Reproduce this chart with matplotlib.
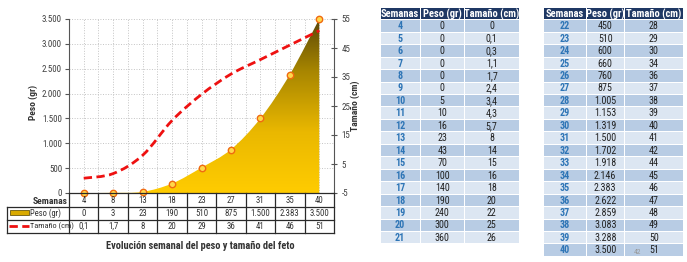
"""
Evolucion semanal del peso y tamano del feto: chart with data table plus two lookup tables.
"""
import numpy as np
import matplotlib

matplotlib.use("Agg")
import matplotlib.pyplot as plt
from matplotlib.path import Path
from matplotlib.patches import PathPatch, Rectangle
from matplotlib.colors import LinearSegmentedColormap
from matplotlib.lines import Line2D
from matplotlib.ticker import FuncFormatter

plt.rcParams["font.family"] = ["Roboto Condensed", "Liberation Sans Narrow",
                               "Liberation Sans", "DejaVu Sans"]
plt.rcParams["axes.unicode_minus"] = False

W, H = 687, 262

# chart series
semanas_graf = [4, 8, 13, 18, 23, 27, 31, 35, 40]
peso_graf = [0, 3, 23, 190, 510, 875, 1500, 2383, 3500]
tamano_graf = [0.1, 1.7, 8, 20, 29, 36, 41, 46, 51]

# lookup tables (weeks 4-21 and 22-40)
semanas_tabla = list(range(4, 41))
peso_tabla = [0, 0, 0, 0, 0, 0, 5, 10, 16, 23, 43, 70, 100, 140, 190, 240, 300, 360,
              450, 510, 600, 660, 760, 875, 1005, 1153, 1319, 1500, 1702, 1918, 2146,
              2383, 2622, 2859, 3083, 3288, 3500]
tamano_tabla = [0, 0.1, 0.3, 1.1, 1.7, 2.4, 3.4, 4.3, 5.7, 8, 14, 15, 16, 18, 20, 22, 25, 26,
                28, 29, 30, 34, 36, 37, 38, 39, 40, 41, 42, 44, 45, 46, 47, 48, 49, 50, 51]

RED = "#ee1111"
TXT = "#333333"


def fmt_es(v):
    if float(v).is_integer():
        return f"{int(v):,}".replace(",", ".")
    return f"{v}".replace(".", ",")


def smooth_path(x, y):
    pts = np.column_stack([x, y]).astype(float)
    n = len(pts)
    verts = [pts[0]]
    codes = [Path.MOVETO]
    for i in range(n - 1):
        p0 = pts[i - 1] if i > 0 else pts[i]
        p1, p2 = pts[i], pts[i + 1]
        p3 = pts[i + 2] if i + 2 < n else pts[i + 1]
        verts += [p1 + (p2 - p0) / 6, p2 - (p3 - p1) / 6, p2]
        codes += [Path.CURVE4] * 3
    return verts, codes


fig = plt.figure(figsize=(W / 100, H / 100), dpi=100)

# ---- chart ----
L, R, T, B = 69, 334, 19, 193
ax = fig.add_axes([L / W, 1 - B / H, (R - L) / W, (B - T) / H])
ax2 = ax.twinx()
xs = np.arange(len(semanas_graf))

# gradient area for peso
verts, codes = smooth_path(xs, peso_graf)
area_verts = verts + [(xs[-1], 0), (xs[0], 0), (xs[0], 0)]
area_codes = codes + [Path.LINETO, Path.LINETO, Path.CLOSEPOLY]
area = PathPatch(Path(area_verts, area_codes), facecolor="none", edgecolor="none")
ax.add_patch(area)
cmap = LinearSegmentedColormap.from_list(
    "oro", [(0, "#ffcc00"), (0.35, "#eab800"), (0.7, "#a88600"), (1, "#5a4708")])
grad = np.linspace(0, 1, 256).reshape(-1, 1)
im = ax.imshow(grad, extent=[-0.5, 8.5, 0, 3500], origin="lower", cmap=cmap,
               aspect="auto", zorder=2)
im.set_clip_path(area)

# tamano smoothed dashed line (right axis scale)
tv, tc = smooth_path(xs, tamano_graf)
red_line = PathPatch(Path(tv, tc), fill=False, edgecolor=RED, lw=2.0,
                     linestyle=(0, (3, 1.6)), transform=ax2.transData, zorder=3)
red_line.set_capstyle("butt")
ax.add_patch(red_line)

ax.plot(xs, peso_graf, "o", ms=4.6, mfc="#ffd84a", mec="#f06a10", mew=1.0, zorder=5,
        clip_on=False)

ax.set_xlim(-0.5, 8.5)
ax.set_ylim(0, 3500)
ax2.set_ylim(-5, 55)
ax.set_xticks(np.arange(-0.5, 8.6, 0.5))
ax.set_xticklabels([])
ax.tick_params(axis="x", length=0)
ax.set_yticks(np.arange(0, 3501, 500))
ax.yaxis.set_major_formatter(FuncFormatter(lambda v, p: fmt_es(v)))
ax.tick_params(axis="y", labelsize=6.5, colors="#555555", labelcolor="#404040",
               length=3, width=0.8, pad=2)
ax2.set_yticks(np.arange(-5, 56, 10))
ax2.tick_params(axis="y", labelsize=6.5, colors="#555555", labelcolor="#404040",
                direction="inout", length=5, width=0.8, pad=3)
ax.grid(True, color="#c4c4c4", linestyle=":", lw=0.7)
ax.set_axisbelow(True)
for s in ["top", "right", "bottom"]:
    ax.spines[s].set_visible(False)
for s in ["top", "left", "bottom"]:
    ax2.spines[s].set_visible(False)
ax.spines["left"].set_color("#555555")
ax2.spines["right"].set_color("#555555")

# ---- overlay in pixel coordinates ----
ov = fig.add_axes([0, 0, 1, 1], zorder=10)
ov.set_xlim(0, W)
ov.set_ylim(H, 0)
ov.axis("off")
ov.patch.set_visible(False)

ov.text(33, 102, "Peso (gr)", rotation=90, ha="center", va="center",
        fontsize=6.8, fontweight="bold", color=TXT)
ov.text(355, 106, "Tamaño (cm)", rotation=90, ha="center", va="center",
        fontsize=6.8, fontweight="bold", color=TXT)

# data table under the chart
n = len(semanas_graf)
cw = (R - L) / n
y_rows = [B, 207, 219.5, 232.5]
lc, lw = "#2a2a2a", 0.9
ov.plot([L, R], [B, B], color=lc, lw=lw)
for y in y_rows[1:]:
    ov.plot([7, R], [y, y], color=lc, lw=lw)
for i in range(n + 1):
    ov.plot([L + i * cw] * 2, [B, y_rows[-1]], color=lc, lw=lw)
ov.plot([7, 7], [y_rows[1], y_rows[-1]], color=lc, lw=lw)
ov.text(L - 1, 201.8, "Semanas", ha="right", va="center", fontsize=6.8,
        fontweight="bold", color=TXT)
for i in range(n):
    cx = L + (i + 0.5) * cw
    ov.text(cx, 200.5, str(semanas_graf[i]), ha="center", va="center", fontsize=6.3, color=TXT)
    ov.text(cx, 213.5, fmt_es(peso_graf[i]), ha="center", va="center", fontsize=6.3, color=TXT)
    ov.text(cx, 226.3, fmt_es(tamano_graf[i]), ha="center", va="center", fontsize=6.3, color=TXT)
ov.add_patch(Rectangle((10, 209.5), 19, 5, facecolor="#d9aa00", edgecolor="#6b5a10", lw=0.6))
ov.text(30, 213.3, "Peso (gr)", ha="left", va="center", fontsize=6.2, color=TXT)
ov.add_line(Line2D([9, 29], [226.3, 226.3], color=RED, lw=2.0, linestyle=(0, (3, 1.6)),
                   solid_capstyle="butt", dash_capstyle="butt"))
ov.text(29.5, 226.3, "Tamaño (cm)", ha="left", va="center", fontsize=6.0, color=TXT)

ov.text(200, 246, "Evolución semanal del peso y tamaño del feto", ha="center",
        va="center", fontsize=7.5, fontweight="bold", color=TXT)


# ---- right tables ----
def draw_table(edges, y0, rows):
    hh, rh = 11, 12.45
    heads = ["Semanas", "Peso (gr)", "Tamaño (cm)"]
    for j, h in enumerate(heads):
        x1, x2 = edges[j], edges[j + 1]
        ov.add_patch(Rectangle((x1 + 0.5, y0), x2 - x1 - 1, hh, facecolor="#1f3864",
                               edgecolor="none"))
        ov.text((x1 + x2) / 2, y0 + hh / 2 + 0.3, h, ha="center", va="center",
                fontsize=7.6, fontweight="bold", color="white")
    for k, (sem, pes, tam) in enumerate(rows):
        y = y0 + hh + 0.5 + k * rh
        fc = "#b8cce4" if k % 2 == 0 else "#dce6f2"
        vals = [str(sem), fmt_es(pes), fmt_es(tam)]
        for j in range(3):
            x1, x2 = edges[j], edges[j + 1]
            ov.add_patch(Rectangle((x1 + 0.5, y + 0.5), x2 - x1 - 1, rh - 1,
                                   facecolor=fc, edgecolor="none"))
            ov.text((x1 + x2) / 2, y + rh / 2 + 0.2, vals[j], ha="center", va="center",
                    fontsize=7.2, color="#2e75b6" if j == 0 else "#222222",
                    fontweight="bold" if j == 0 else "normal")


rows_all = list(zip(semanas_tabla, peso_tabla, tamano_tabla))
draw_table([380, 420, 464.5, 519], 8.3, rows_all[:18])
draw_table([543, 586, 624.5, 683], 8.3, rows_all[18:])
ov.text(637, 252.5, "42", ha="center", va="center", fontsize=5.5, color="#999999")

fig.savefig("out.png", dpi=100)
